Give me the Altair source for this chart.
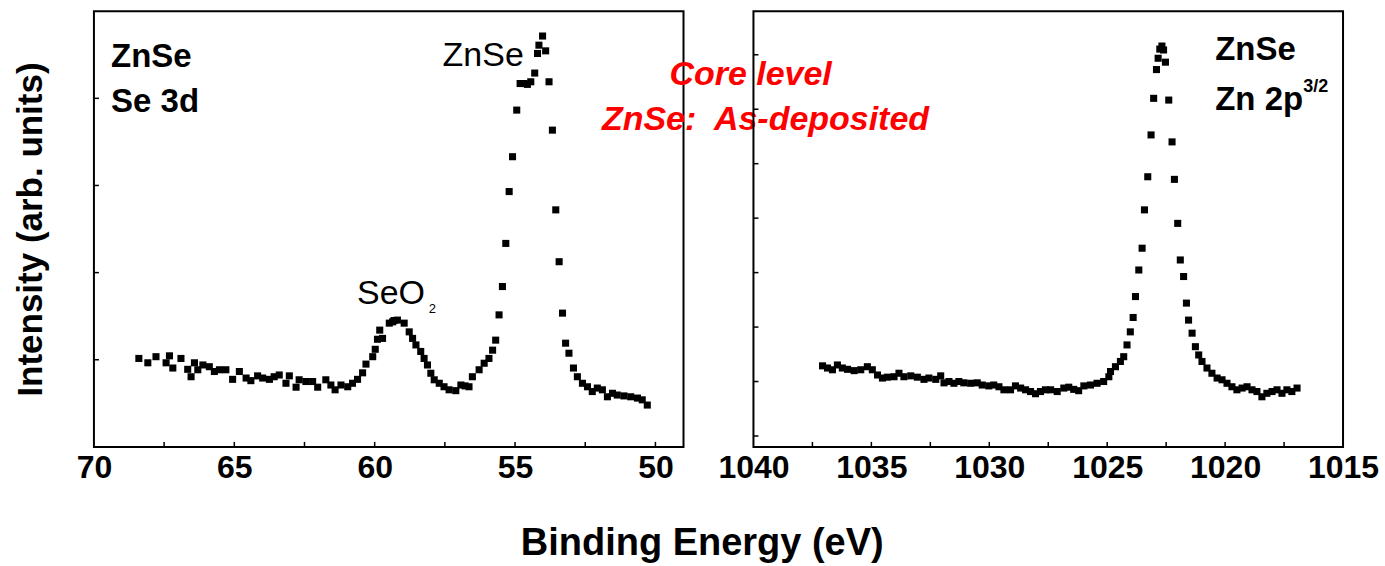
import altair as alt
import pandas as pd

# ---------------- data ----------------
se_ev = [68.40, 68.08, 67.79, 67.43, 67.31, 67.19, 66.90, 66.66, 66.54, 66.42, 66.30, 66.12,
         65.89, 65.71, 65.53, 65.30, 65.06, 64.82, 64.58, 64.41, 64.17, 63.99, 63.75, 63.58,
         63.40, 63.16, 63.04, 62.80, 62.69, 62.45, 62.21, 62.03, 61.74, 61.56, 61.41, 61.20,
         60.96, 60.79, 60.61, 60.43, 60.31, 60.07, 59.98, 59.90, 59.82, 59.72, 59.48, 59.36,
         59.31, 59.19, 58.95, 58.77, 58.65, 58.53, 58.36, 58.24, 58.12, 58.00, 57.88, 57.70,
         57.53, 57.35, 57.11, 56.93, 56.78, 56.64, 56.52, 56.28, 56.10, 55.93, 55.80, 55.69,
         55.57, 55.45, 55.33, 55.21, 55.09, 54.94, 54.82, 54.68, 54.56, 54.44, 54.30, 54.20,
         54.15, 54.02, 53.91, 53.79, 53.67, 53.55, 53.43, 53.31, 53.20, 53.08, 52.92, 52.78,
         52.60, 52.42, 52.25, 52.07, 51.89, 51.71, 51.53, 51.36, 51.12, 50.88, 50.64, 50.47,
         50.29]
se_int = [20.3, 19.3, 20.7, 19.3, 20.9, 18.1, 20.3, 17.8, 16.1, 19.3, 17.7, 18.8,
          18.4, 17.3, 17.7, 17.7, 15.5, 17.3, 15.8, 15.2, 16.3, 15.8, 15.5, 16.1,
          16.5, 14.6, 16.3, 13.7, 15.4, 15.0, 15.0, 13.7, 15.4, 14.2, 13.1, 14.2,
          13.8, 14.6, 15.5, 17.0, 19.0, 20.7, 22.4, 24.7, 26.8, 24.9, 28.4, 28.7,
          29.0, 29.1, 28.4, 26.4, 24.9, 23.4, 21.9, 20.3, 18.8, 16.9, 15.4, 14.6,
          13.8, 13.1, 12.9, 14.2, 14.0, 13.8, 16.1, 17.7, 19.2, 20.3, 22.2, 24.5,
          30.3, 36.8, 46.7, 58.6, 66.6, 77.3, 83.4, 83.4, 83.2, 83.8, 85.8, 90.3,
          92.2, 94.3, 90.9, 83.8, 72.7, 54.4, 42.5, 30.7, 23.8, 21.5, 18.1, 16.1,
          14.6, 13.8, 12.7, 13.5, 13.1, 11.5, 12.3, 11.9, 11.7, 11.5, 11.2, 10.8,
          9.6]

zn_ev = [1037.07, 1036.86, 1036.65, 1036.44, 1036.23, 1036.01, 1035.73, 1035.45, 1035.17,
         1034.96, 1034.74, 1034.53, 1034.32, 1034.04, 1033.83, 1033.62, 1033.33, 1033.05,
         1032.77, 1032.56, 1032.27, 1032.06, 1031.92, 1031.71, 1031.50, 1031.29, 1031.08,
         1030.79, 1030.51, 1030.30, 1030.02, 1029.81, 1029.59, 1029.38, 1029.10, 1028.89,
         1028.67, 1028.46, 1028.25, 1028.04, 1027.83, 1027.62, 1027.40, 1027.12, 1026.84,
         1026.63, 1026.42, 1026.21, 1025.99, 1025.71, 1025.43, 1025.15, 1024.93, 1024.86,
         1024.65, 1024.44, 1024.30, 1024.16, 1024.02, 1023.90, 1023.80, 1023.66, 1023.52,
         1023.42, 1023.28, 1023.14, 1023.03, 1022.91, 1022.84, 1022.77, 1022.68, 1022.61,
         1022.53, 1022.39, 1022.25, 1022.15, 1022.01, 1021.90, 1021.76, 1021.64, 1021.55,
         1021.40, 1021.26, 1021.12, 1020.98, 1020.77, 1020.56, 1020.34, 1020.13, 1019.92,
         1019.71, 1019.50, 1019.28, 1019.07, 1018.86, 1018.65, 1018.44, 1018.23, 1018.01,
         1017.80, 1017.59, 1017.38, 1017.17, 1016.95]
zn_int = [18.6, 18.1, 17.7, 18.8, 18.1, 17.8, 17.5, 17.7, 18.4,
          17.7, 16.5, 15.8, 16.0, 16.1, 16.9, 16.1, 16.3, 16.0,
          15.5, 15.8, 15.5, 16.3, 14.7, 15.0, 14.6, 15.0, 14.7,
          14.6, 14.7, 14.2, 14.0, 14.2, 13.8, 13.1, 13.1, 14.0,
          13.5, 13.1, 12.7, 12.2, 12.7, 13.1, 13.1, 12.7, 13.5,
          13.7, 13.2, 12.9, 14.0, 14.2, 14.6, 15.0, 16.1, 17.3,
          18.4, 19.6, 20.7, 23.4, 26.4, 29.7, 34.5, 40.6, 45.6,
          54.4, 62.0, 71.6, 80.0, 86.6, 89.2, 91.3, 92.0, 91.1,
          88.3, 79.6, 70.0, 61.4, 51.3, 42.9, 39.1, 33.0, 29.1,
          26.1, 23.0, 21.1, 19.6, 18.1, 16.9, 15.8, 15.4, 14.6,
          13.8, 13.1, 13.5, 13.8, 13.1, 12.7, 11.5, 12.3, 12.7,
          13.1, 12.3, 13.1, 12.7, 13.5]

left_tick_labels = [70, 65, 60, 55, 50]
right_tick_labels = [1040, 1035, 1030, 1025, 1020, 1015]
left_xticks = [67.5, 65, 62.5, 60, 57.5, 55, 52.5, 50]
right_xticks = [1037.5, 1035, 1032.5, 1030, 1027.5, 1025, 1022.5, 1020, 1017.5]
left_yticks = [20, 40, 60, 80]
right_yticks = [2.5, 15, 27.5, 40, 52.5, 65, 77.5, 90]

# annotations: (x in eV, y in arb. units, text)
left_bold_notes = {"x": [69.39, 69.39], "y": [87.2, 76.8], "t": ["ZnSe", "Se 3d"]}
left_plain_notes = {"x": [57.58, 60.63], "y": [87.4, 32.8], "t": ["ZnSe", "SeO"]}
left_sub_notes = {"x": [58.07], "y": [30.7], "t": ["2"]}
red_notes = {"x": [46.61, 46.08], "y": [83.0, 72.7], "t": ["Core level", "ZnSe:\u00a0 As-deposited"]}
right_bold_notes = {"x": [1020.42, 1020.42], "y": [88.8, 77.3], "t": ["ZnSe", "Zn 2p"]}
right_sup_notes = {"x": [1016.69], "y": [81.4], "t": ["3/2"]}

FONT = "Liberation Sans"
W, H = 590, 436


def panel(ev, inten, domain, labels, xticks, yticks, notes, y_title):
    xs = alt.Scale(domain=domain, reverse=True, nice=False, zero=False)
    ys = alt.Scale(domain=[0, 100], nice=False, zero=False)
    xaxis = alt.Axis(values=labels, ticks=False, domain=False, grid=False,
                     labelFont=FONT, labelFontSize=32, labelFontWeight="bold",
                     labelColor="black", labelPadding=6, labelFlush=False,
                     labelOverlap=False, format="d", title=None)
    if y_title:
        yaxis = alt.Axis(labels=False, ticks=False, domain=False, grid=False,
                         title=y_title, titleFont=FONT, titleFontSize=35,
                         titleFontWeight="bold", titleColor="black", titlePadding=45)
    else:
        yaxis = None
    df = pd.DataFrame({"x": ev, "y": inten})
    pts = alt.Chart(df).mark_square(size=50, color="black", opacity=1).encode(
        x=alt.X("x:Q", scale=xs, axis=xaxis),
        y=alt.Y("y:Q", scale=ys, axis=yaxis),
    )
    xt = alt.Chart(pd.DataFrame({"x": xticks})).mark_rule(color="black", strokeWidth=1.5).encode(
        x=alt.X("x:Q", scale=xs, axis=xaxis), y=alt.value(H), y2=alt.value(H - 5))
    yt = alt.Chart(pd.DataFrame({"y": yticks})).mark_rule(color="black", strokeWidth=1.5).encode(
        y=alt.Y("y:Q", scale=ys, axis=yaxis), x=alt.value(0), x2=alt.value(5))
    layers = [pts, xt, yt]
    for d, kw in notes:
        layers.append(alt.Chart(pd.DataFrame(d)).mark_text(font=FONT, baseline="alphabetic", **kw).encode(
            x=alt.X("x:Q", scale=xs, axis=xaxis), y=alt.Y("y:Q", scale=ys, axis=yaxis), text="t:N"))
    return alt.layer(*layers).properties(width=W, height=H)


left = panel(se_ev, se_int, [49, 70], left_tick_labels, left_xticks, left_yticks,
             [(left_bold_notes, dict(fontSize=33, fontWeight="bold", color="black", align="left")),
              (left_plain_notes, dict(fontSize=34, color="black", align="left")),
              (left_sub_notes, dict(fontSize=13, color="black", align="left")),
              (red_notes, dict(fontSize=34, fontWeight="bold", fontStyle="italic", color="#ff0000", align="center"))],
             "Intensity (arb. units)")
right = panel(zn_ev, zn_int, [1015, 1040], right_tick_labels, right_xticks, right_yticks,
              [(right_bold_notes, dict(fontSize=33, fontWeight="bold", color="black", align="left")),
               (right_sup_notes, dict(fontSize=18, fontWeight="bold", color="black", align="left"))],
              None)

chart = alt.hconcat(left, right, spacing=70, bounds="flush").properties(
    title=alt.TitleParams(text="Binding Energy (eV)", orient="bottom", anchor="middle",
                          font=FONT, fontSize=38, fontWeight="bold", color="black",
                          offset=40, dx=6),
    padding={"left": 13, "top": 10, "right": 5, "bottom": 0},
    background="white",
).configure_view(stroke="black", strokeWidth=2)

chart.save("out.html", embed_options={"renderer": "svg", "actions": False})
